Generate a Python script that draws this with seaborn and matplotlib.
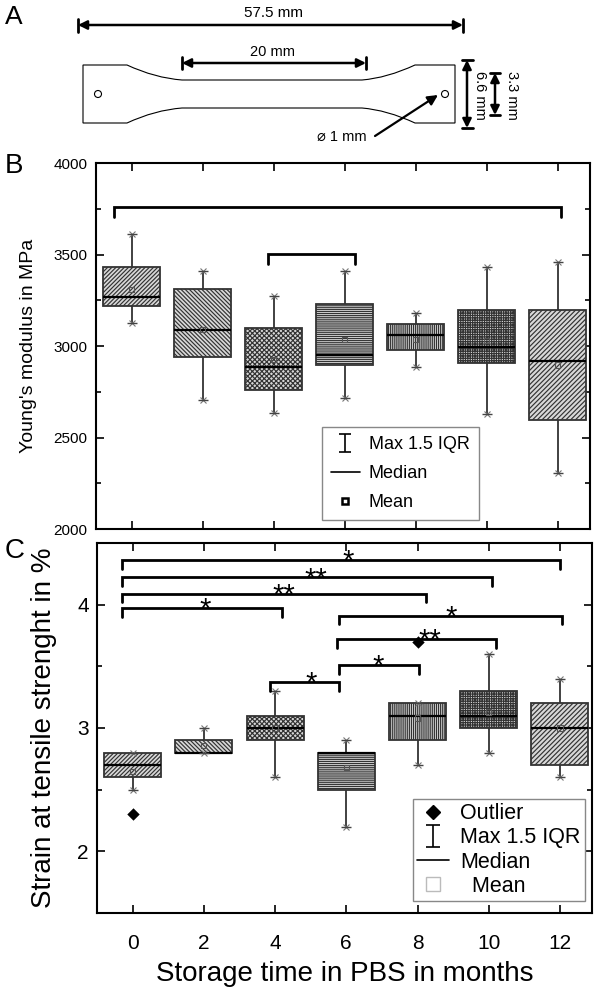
import numpy as np
import pandas as pd
import matplotlib
matplotlib.use('Agg')
import matplotlib.pyplot as plt
import seaborn as sns
from matplotlib.path import Path
from matplotlib.patches import PathPatch, Circle
from matplotlib.lines import Line2D
from matplotlib.ticker import MultipleLocator

months = [0, 2, 4, 6, 8, 10, 12]
hatches = ['////////', '\\\\\\\\\\\\\\\\', 'xxxxxxx', '--------', '||||||||', '+++++++', '///////']

# Young's modulus in MPa (whisker low, q1, median, q3, whisker high, mean)
ym_wlo = [3127, 2705, 2636, 2717, 2887, 2627, 2308]
ym_q1 = [3219, 2938, 2760, 2896, 2978, 2909, 2596]
ym_med = [3269, 3087, 2887, 2951, 3060, 2996, 2918]
ym_q3 = [3430, 3310, 3097, 3230, 3120, 3197, 3197]
ym_whi = [3610, 3411, 3273, 3411, 3179, 3430, 3459]
ym_mean = [3310, 3090, 2927, 3037, 3038, 3029, 2896]
ym_br_x1 = [-0.5, 3.85]
ym_br_x2 = [12.1, 6.3]
ym_br_y = [3760, 3505]

# strain at tensile strength in %
st_wlo = [2.5, 2.8, 2.6, 2.2, 2.7, 2.8, 2.6]
st_q1 = [2.6, 2.8, 2.9, 2.5, 2.9, 3.0, 2.7]
st_med = [2.7, 2.8, 3.0, 2.8, 3.1, 3.1, 3.0]
st_q3 = [2.8, 2.9, 3.1, 2.8, 3.2, 3.3, 3.2]
st_whi = [2.8, 3.0, 3.3, 2.9, 3.2, 3.6, 3.4]
st_mean = [2.65, 2.86, 3.0, 2.68, 3.08, 3.13, 3.0]
out_month = [0, 8]
out_val = [2.3, 3.7]
st_br_x1 = [-0.3, -0.3, -0.3, -0.3, 5.8, 5.75, 5.8, 3.85]
st_br_x2 = [12.0, 10.1, 8.25, 4.2, 12.05, 10.2, 8.05, 5.8]
st_br_y = [4.36, 4.22, 4.09, 3.97, 3.91, 3.72, 3.51, 3.37]
st_star_x = [6.05, 5.15, 4.25, 2.05, 8.95, 8.35, 6.9, 5.0]
st_star = ['*', '**', '**', '*', '*', '**', '*', '*']

sns.set_style('ticks')
plt.rcParams['font.family'] = ['Liberation Sans', 'DejaVu Sans']
plt.rcParams['hatch.linewidth'] = 0.85
plt.rcParams['axes.edgecolor'] = 'black'
plt.rcParams['text.color'] = 'black'
plt.rcParams['axes.labelcolor'] = 'black'
plt.rcParams['xtick.color'] = 'black'
plt.rcParams['ytick.color'] = 'black'

face = '#d8d8d8'
edge = '#333333'


def summary_frame(wlo, q1, med, q3, whi):
    rows = []
    for i, m in enumerate(months):
        for v in (wlo[i], q1[i], med[i], q3[i], whi[i]):
            rows.append((m, v))
    return pd.DataFrame(rows, columns=['month', 'value'])


def draw_boxes(ax, df, wlo, whi, mean):
    sns.boxplot(data=df, x='month', y='value', native_scale=True, whis=np.inf,
                width=0.8, color=face, linecolor=edge, linewidth=1.3,
                saturation=1, showcaps=False, fliersize=0, ax=ax,
                medianprops=dict(color='black', linewidth=1.6))
    for p, h in zip(ax.patches, hatches):
        p.set_hatch(h)
        p.set_edgecolor(edge)
    for vals in (wlo, whi):
        ax.plot(months, vals, ls='none', marker='x', ms=4, mew=0.8, color='#777777', zorder=4)
        ax.plot(months, vals, ls='none', marker='_', ms=7, mew=1.0, color='#444444', zorder=4)
    sns.scatterplot(x=months, y=mean, marker='s', s=14, facecolors='none',
                    edgecolors='#555555', linewidths=0.8, ax=ax, zorder=5)


def brackets(ax, x1, x2, y, h):
    for a, b, c in zip(x1, x2, y):
        ax.plot([a, a, b, b], [c - h, c, c, c - h], color='black', lw=2.0,
                solid_joinstyle='miter', zorder=6)


def style_axis(ax):
    for s in ax.spines.values():
        s.set_linewidth(1.5)
        s.set_visible(True)
    ax.tick_params(which='both', direction='in', top=True, right=True, width=1.2)
    ax.tick_params(which='major', length=6)
    ax.tick_params(which='minor', length=3.5)
    ax.set_xlim(-1, 12.9)
    ax.set_xticks(months)


fig = plt.figure(figsize=(6, 9.89), dpi=100)

# ---- panel A: specimen sketch (pixel coordinates)
axA = fig.add_axes([0, 1 - 150 / 989, 1, 150 / 989])
axA.set_xlim(0, 600)
axA.set_ylim(150, 0)
axA.axis('off')
verts = [(83, 65), (127, 65), (155, 78), (182, 80), (362, 80), (387, 78), (415, 65),
         (455, 65), (455, 123), (415, 123), (387, 110), (362, 108), (182, 108),
         (155, 110), (127, 123), (83, 123), (83, 65)]
codes = [Path.MOVETO, Path.LINETO, Path.CURVE3, Path.CURVE3, Path.LINETO, Path.CURVE3,
         Path.CURVE3, Path.LINETO, Path.LINETO, Path.LINETO, Path.CURVE3, Path.CURVE3,
         Path.LINETO, Path.CURVE3, Path.CURVE3, Path.LINETO, Path.CLOSEPOLY]
axA.add_patch(PathPatch(Path(verts, codes), fc='white', ec='black', lw=0.8))
axA.add_patch(Circle((98, 94), 3.5, fc='white', ec='black', lw=0.8))
axA.add_patch(Circle((445, 94), 3.5, fc='white', ec='black', lw=0.8))


def dim_arrow(p0, p1, bar):
    axA.annotate('', xy=p1, xytext=p0,
                 arrowprops=dict(arrowstyle='<|-|>', lw=1.8, color='black',
                                 shrinkA=0, shrinkB=0, mutation_scale=13))
    for p in (p0, p1):
        if p0[1] == p1[1]:
            axA.plot([p[0], p[0]], [p[1] - bar, p[1] + bar], color='black', lw=2)
        else:
            axA.plot([p[0] - bar, p[0] + bar], [p[1], p[1]], color='black', lw=2)


dim_arrow((78, 25), (463, 25), 6.5)
dim_arrow((182, 63), (366, 63), 6)
dim_arrow((467, 60), (467, 128), 5.5)
dim_arrow((495, 73), (495, 115), 5)
axA.annotate('', xy=(438, 95), xytext=(375, 136),
             arrowprops=dict(arrowstyle='-|>', lw=1.6, color='black',
                             shrinkA=0, shrinkB=0, mutation_scale=15))
axA.text(273, 13, '57.5 mm', fontsize=11, ha='center', va='center')
axA.text(273, 52, '20 mm', fontsize=10.5, ha='center', va='center')
axA.text(480, 95, '6.6 mm', fontsize=10.5, ha='center', va='center', rotation=-90)
axA.text(512, 95, '3.3 mm', fontsize=10.5, ha='center', va='center', rotation=-90)
axA.text(342, 137, '\u2300 1 mm', fontsize=10.5, ha='center', va='center')

# ---- panel B: Young's modulus
axB = fig.add_axes([0.160, 0.4651, 0.823, 0.370])
draw_boxes(axB, summary_frame(ym_wlo, ym_q1, ym_med, ym_q3, ym_whi), ym_wlo, ym_whi, ym_mean)
brackets(axB, ym_br_x1, ym_br_x2, ym_br_y, 55)
style_axis(axB)
axB.set_ylim(2000, 4000)
axB.yaxis.set_major_locator(MultipleLocator(500))
axB.yaxis.set_minor_locator(MultipleLocator(250))
axB.tick_params(labelbottom=False, labelsize=11, pad=6)
axB.set_xlabel('')
axB.set_ylabel("Young's modulus in MPa", fontsize=14)
axB.yaxis.set_label_coords(-0.119, 0.5)

eb = axB.errorbar([np.nan], [np.nan], yerr=[[1], [1]], fmt='none', ecolor='black',
                  elinewidth=1.2, capsize=4, capthick=1.2)
hB = [eb, Line2D([], [], color='black', lw=1.2),
      Line2D([], [], ls='none', marker='s', ms=5, mfc='none', mec='black', mew=1.8)]
axB.legend(hB, ['Max 1.5 IQR', 'Median', 'Mean'], loc='lower left',
           bbox_to_anchor=(0.457, 0.025), borderaxespad=0, fontsize=13, fancybox=False,
           edgecolor='#888888', framealpha=1, borderpad=0.5, labelspacing=0.65,
           handlelength=1.6, handletextpad=0.5)

# ---- panel C: strain at tensile strength
axC = fig.add_axes([0.1617, 0.0769, 0.825, 0.3741])
draw_boxes(axC, summary_frame(st_wlo, st_q1, st_med, st_q3, st_whi), st_wlo, st_whi, st_mean)
sns.scatterplot(x=out_month, y=out_val, marker='D', s=40, color='black', linewidth=0,
                ax=axC, zorder=6)
brackets(axC, st_br_x1, st_br_x2, st_br_y, 0.07)
for x, y, s in zip(st_star_x, st_br_y, st_star):
    axC.annotate(s, (x, y), xytext=(0, -7), textcoords='offset points', ha='center',
                 va='baseline', fontsize=21, zorder=7)
style_axis(axC)
axC.set_ylim(1.5, 4.5)
axC.yaxis.set_major_locator(MultipleLocator(1))
axC.yaxis.set_minor_locator(MultipleLocator(0.5))
axC.tick_params(axis='x', labelsize=15, pad=15)
axC.tick_params(axis='y', labelsize=15, pad=6)
axC.set_xlabel('Storage time in PBS in months', fontsize=20)
axC.set_ylabel('Strain at tensile strenght in %', fontsize=20)
axC.yaxis.set_label_coords(-0.081, 0.5)
axC.xaxis.set_label_coords(0.5, -0.13)

ebC = axC.errorbar([np.nan], [np.nan], yerr=[[1], [1]], fmt='none', ecolor='black',
                   elinewidth=1.2, capsize=5, capthick=1.2)
hC = [Line2D([], [], ls='none', marker='D', ms=7, color='black'), ebC,
      Line2D([], [], color='black', lw=1.2),
      Line2D([], [], ls='none', marker='s', ms=10, mfc='none', mec='#bbbbbb', mew=1.0)]
axC.legend(hC, ['Outlier', 'Max 1.5 IQR', 'Median', '  Mean'], loc='lower left',
           bbox_to_anchor=(0.638, 0.032), borderaxespad=0, fontsize=15.5, fancybox=False,
           edgecolor='#888888', framealpha=1, borderpad=0.2, labelspacing=0.15,
           handlelength=1.5, handletextpad=0.5)

fig.text(5 / 600, 1 - 5 / 989, 'A', fontsize=19, va='top', ha='left')
fig.text(5 / 600, 1 - 153 / 989, 'B', fontsize=20, va='top', ha='left')
fig.text(5 / 600, 1 - 538 / 989, 'C', fontsize=20, va='top', ha='left')

fig.savefig('out.png', dpi=100)
